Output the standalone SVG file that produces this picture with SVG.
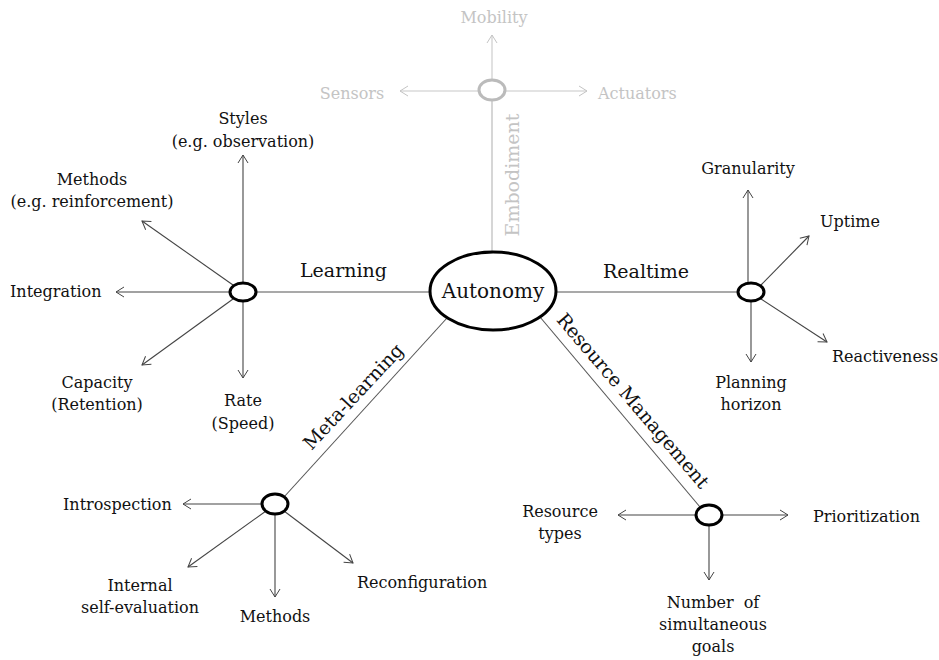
<svg xmlns="http://www.w3.org/2000/svg" width="939" height="660" viewBox="0 0 939 660">
<defs>
<marker id="ah" markerUnits="userSpaceOnUse" markerWidth="12" markerHeight="12" refX="9" refY="6" orient="auto" overflow="visible">
<path d="M1,1 L9,6 L1,11" fill="none" stroke="#444" stroke-width="1"/>
</marker>
<marker id="ahg" markerUnits="userSpaceOnUse" markerWidth="12" markerHeight="12" refX="9" refY="6" orient="auto" overflow="visible">
<path d="M1,1 L9,6 L1,11" fill="none" stroke="#c4c4c4" stroke-width="1"/>
</marker>
</defs>
<style>
text{font-family:"DejaVu Serif","Liberation Serif",serif;font-size:16px;fill:#111}
.big{font-size:20px}
.br{font-size:19px}
.g{fill:#c4c4c4}
.node{fill:#fff;stroke:#000;stroke-width:3}
.gnode{fill:#fff;stroke:#bbb;stroke-width:3}
.l{stroke:#555;stroke-width:1.1;fill:none}
.a{stroke:#444;stroke-width:1.1;fill:none;marker-end:url(#ah)}
.ga{stroke:#c8c8c8;stroke-width:1.1;fill:none;marker-end:url(#ahg)}
.gl{stroke:#c8c8c8;stroke-width:1.5;fill:none}
.m{text-anchor:middle}
</style>
<g id="connectors">
<line class="gl" x1="492" y1="100" x2="492" y2="252"/>
<line class="l" x1="256" y1="292" x2="430" y2="292" stroke-width="1.5"/>
<line class="l" x1="556" y1="292" x2="738" y2="292" stroke-width="1.5"/>
<line class="l" x1="447" y1="318" x2="284" y2="497"/>
<line class="l" x1="540" y1="317" x2="700" y2="507"/>
<line class="ga" x1="492" y1="80" x2="492" y2="35"/>
<line class="ga" x1="479" y1="91" x2="400" y2="91"/>
<line class="ga" x1="505" y1="91" x2="587" y2="91"/>
<line class="a" x1="243" y1="283" x2="243" y2="155"/>
<line class="a" x1="233" y1="285" x2="142" y2="221"/>
<line class="a" x1="230" y1="292" x2="116" y2="292"/>
<line class="a" x1="233" y1="299" x2="142" y2="365"/>
<line class="a" x1="243" y1="301" x2="243" y2="378"/>
<line class="a" x1="262" y1="504" x2="183" y2="504"/>
<line class="a" x1="266" y1="511" x2="188" y2="567"/>
<line class="a" x1="275" y1="514" x2="275" y2="597"/>
<line class="a" x1="284" y1="511" x2="353" y2="563"/>
<line class="a" x1="696" y1="515" x2="618" y2="515"/>
<line class="a" x1="722" y1="515" x2="788" y2="515"/>
<line class="a" x1="709" y1="526" x2="709" y2="580"/>
<line class="a" x1="748" y1="283" x2="748" y2="190"/>
<line class="a" x1="761" y1="285" x2="809" y2="236"/>
<line class="a" x1="761" y1="299" x2="827" y2="342"/>
<line class="a" x1="751" y1="302" x2="751" y2="362"/>
</g>
<g id="autonomy">
<ellipse class="node" cx="493" cy="291" rx="63" ry="39"/>
<text class="big m" x="493" y="298">Autonomy</text>
</g>
<g id="embodiment">
<ellipse class="gnode" cx="492" cy="90" rx="13" ry="10"/>
<text class="br g m" transform="translate(519,175) rotate(-90)">Embodiment</text>
<text class="g m" x="494" y="23">Mobility</text>
<text class="g m" x="352" y="99">Sensors</text>
<text class="g" x="598" y="99">Actuators</text>
</g>
<g id="learning">
<ellipse class="node" cx="243" cy="292" rx="13" ry="9"/>
<text class="br" x="300" y="277">Learning</text>
<text class="m" x="243" y="124">Styles</text>
<text class="m" x="243" y="147">(e.g. observation)</text>
<text class="m" x="92" y="185">Methods</text>
<text class="m" x="92" y="207">(e.g. reinforcement)</text>
<text x="10" y="297">Integration</text>
<text class="m" x="97" y="388">Capacity</text>
<text class="m" x="97" y="410">(Retention)</text>
<text class="m" x="243" y="406">Rate</text>
<text class="m" x="243" y="429">(Speed)</text>
</g>
<g id="meta-learning">
<ellipse class="node" cx="275" cy="504" rx="13" ry="10"/>
<text class="br m" transform="translate(358,401) rotate(-47)">Meta-learning</text>
<text x="63" y="510">Introspection</text>
<text class="m" x="140" y="591">Internal</text>
<text class="m" x="140" y="613">self-evaluation</text>
<text class="m" x="275" y="622">Methods</text>
<text x="357" y="588">Reconfiguration</text>
</g>
<g id="resource-management">
<ellipse class="node" cx="709" cy="515" rx="13" ry="10"/>
<text class="br m" transform="translate(628,405) rotate(49.5)">Resource Management</text>
<text class="m" x="560" y="517">Resource</text>
<text class="m" x="560" y="539">types</text>
<text x="813" y="522">Prioritization</text>
<text class="m" x="713" y="608" xml:space="preserve" style="white-space:pre">Number  of</text>
<text class="m" x="713" y="630">simultaneous</text>
<text class="m" x="713" y="652">goals</text>
</g>
<g id="realtime">
<ellipse class="node" cx="751" cy="292" rx="13" ry="9"/>
<text class="br" x="603" y="278">Realtime</text>
<text class="m" x="748" y="174">Granularity</text>
<text x="820" y="227">Uptime</text>
<text x="832" y="362">Reactiveness</text>
<text class="m" x="751" y="388">Planning</text>
<text class="m" x="751" y="410">horizon</text>
</g>
</svg>
